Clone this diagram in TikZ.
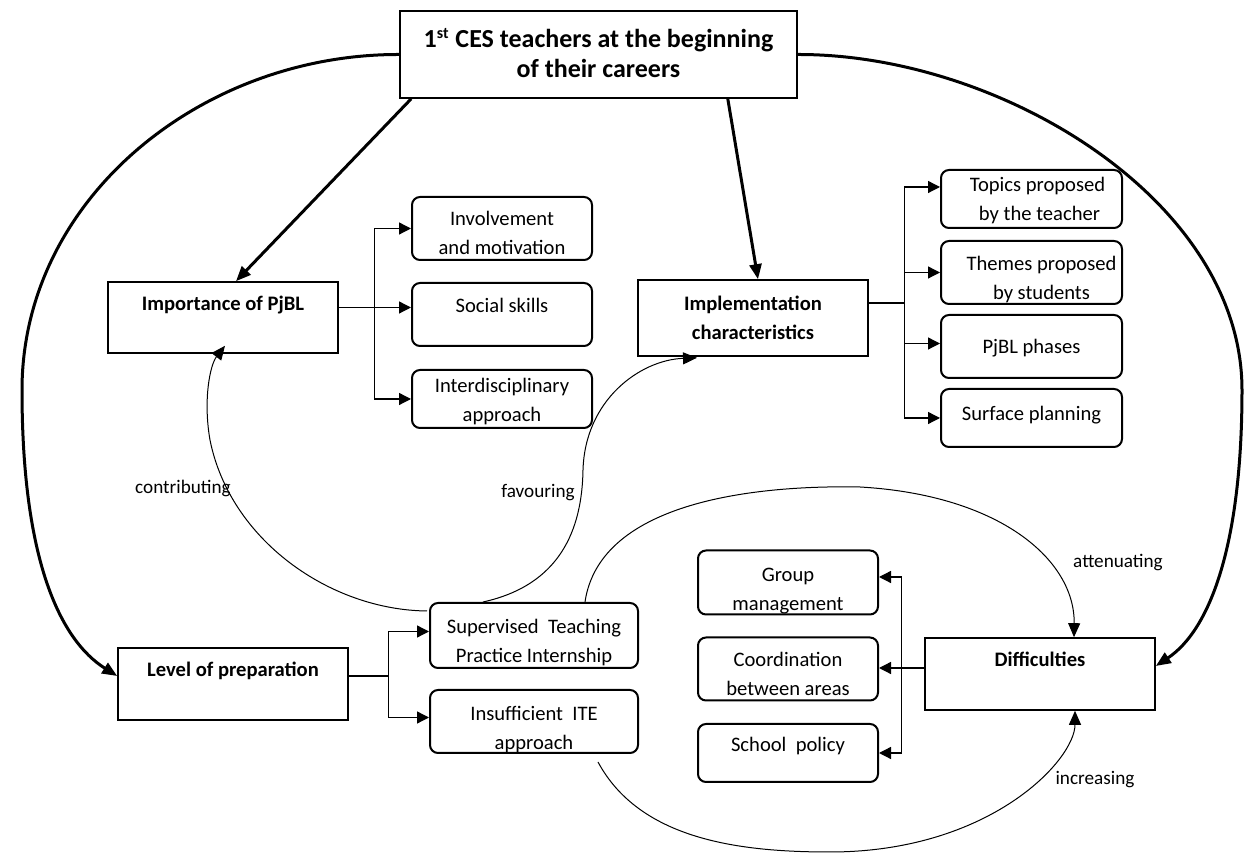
\documentclass[tikz,border=0pt]{standalone}
\usepackage{fontspec}
\setmainfont{Carlito}
\usetikzlibrary{arrows.meta,calc}
\newcommand{\subtext}[2]{\raisebox{-#1}[\height][\depth]{\begin{tabular}{@{}c@{}}#2\end{tabular}}}
\begin{document}
\begin{tikzpicture}[x=0.5pt,y=-0.5pt,
	box/.style={draw,line width=0.8pt,align=center,inner sep=0pt,minimum width=115pt,font=\fontsize{10.3}{14.5}\selectfont\bfseries},
	sub/.style={draw,line width=1pt,rounded corners=4pt,inner sep=0pt,font=\fontsize{10.3}{14.5}\selectfont},
	lbl/.style={inner sep=0pt,font=\fontsize{9.6}{11}\selectfont},
	link/.style={line width=0.65pt},
	tip/.style={line width=0.65pt,-{Triangle[length=6pt,width=6pt]}},
	curvearrow/.style={line width=0.5pt,-{Triangle[length=7pt,width=6pt]}},
	mainarrow/.style={line width=1.5pt,-{Triangle[length=7.5pt,width=6pt]}}]
	\useasboundingbox (0,0) rectangle (1249,854);
	
	\node[draw,line width=0.8pt,inner sep=0pt,minimum width=198.5pt,minimum height=43.5pt,font=\fontsize{13}{15}\selectfont\bfseries] (top) at (598.5,54.5) {\subtext{0.9pt}{1\textsuperscript{\footnotesize st} CES teachers at the beginning\\of their careers}};
	
	\node[box,minimum height=35.5pt] (imp) at (223,317.5) {Importance of PjBL\\\mbox{}};
	\node[box,minimum height=38pt] (impl) at (753,318) {Implementation\\characteristics};
	\node[box,minimum height=36pt] (lev) at (233,684) {Level of preparation\\\mbox{}};
	\node[box,minimum height=36pt] (dif) at (1040,674) {Difficulties\\\mbox{}};
	
	\node[sub,minimum width=90pt,minimum height=31.5pt] (inv) at (502,228.5) {\subtext{3pt}{Involvement\\and motivation}};
	\node[sub,minimum width=90pt,minimum height=31.5pt] (soc) at (502,314.5) {\subtext{3.5pt}{Social skills\\\mbox{}}};
	\node[sub,minimum width=90pt,minimum height=29pt] (int) at (502,399) {\subtext{1pt}{Interdisciplinary\\approach}};
	
	\node[sub,minimum width=90.5pt,minimum height=29pt] (tpc) at (1031.5,199) {\subtext{0.5pt}{\hspace{6pt}Topics proposed\\\hspace{8pt}by the teacher}};
	\node[sub,minimum width=90.5pt,minimum height=31.5pt] (thm) at (1031.5,272.5) {\subtext{3.5pt}{\hspace{10pt}Themes proposed\\\hspace{10pt}by students}};
	\node[sub,minimum width=90.5pt,minimum height=31.5pt] (pha) at (1031.5,346.5) {\subtext{0.5pt}{PjBL phases}};
	\node[sub,minimum width=90.5pt,minimum height=29pt] (sur) at (1031.5,418) {\subtext{-1.5pt}{Surface planning}};
	
	\node[sub,minimum width=104pt,minimum height=32.5pt] (sup) at (534,635.5) {\subtext{3.5pt}{Supervised\ \ Teaching\\Practice Internship}};
	\node[sub,minimum width=104pt,minimum height=31.5pt] (ins) at (534,721.5) {\subtext{4pt}{Insufficient\ \ ITE\\approach}};
	
	\node[sub,minimum width=90pt,minimum height=32pt] (grp) at (788,582.5) {\subtext{4pt}{Group\\management}};
	\node[sub,minimum width=90pt,minimum height=31.5pt] (crd) at (788,669) {\subtext{3pt}{Coordination\\between areas}};
	\node[sub,minimum width=90pt,minimum height=29pt] (sch) at (788,753) {\subtext{3.5pt}{School\ \ policy\\\mbox{}}};
	
	\node[lbl] (lcon) at (183,488) {contributing};
	\node[lbl] (lfav) at (538,493) {favouring};
	\node[lbl] (latt) at (1118,563) {attenuating};
	\node[lbl] (linc) at (1095,780) {increasing};
	
	\draw[mainarrow] ([xshift=6pt]top.south west) -- ([xshift=6.5pt]imp.north);
	\draw[mainarrow] ([xshift=-35pt]top.south east) -- ([xshift=2.5pt]impl.north);
	\draw[mainarrow] (top.west) .. controls (200,54) and (22,200) .. (22,390) .. controls (22,560) and (60,640) .. ([yshift=4pt]lev.west);
	\draw[mainarrow] (top.east) .. controls (1000,54) and (1242,200) .. (1242,390) .. controls (1242,545) and (1210,630) .. ([yshift=4pt]dif.east);
	
	\draw[link] ([yshift=5pt]imp.east) -- ++(36,0) coordinate (impbus);
	\draw[tip] (impbus) |- (inv.west);
	\draw[tip] (impbus) -- (impbus -| soc.west);
	\draw[tip] (impbus) |- (int.west);
	
	\draw[link] ([yshift=7.5pt]impl.east) -- ++(36,0) coordinate (implbus);
	\draw[tip] (implbus) |- ([yshift=6pt]tpc.west);
	\draw[tip] (implbus) |- (thm.west);
	\draw[tip] (implbus) |- ([yshift=1.5pt]pha.west);
	\draw[tip] (implbus) |- (sur.west);
	
	\draw[link] ([yshift=4pt]lev.east) -- ++(40,0) coordinate (levbus);
	\draw[tip] (levbus) |- ([yshift=2pt]sup.west);
	\draw[tip] (levbus) |- ([yshift=2pt]ins.west);
	
	\draw[link] ([yshift=3pt]dif.west) -- ++(-23,0) coordinate (difbus);
	\draw[tip] (difbus) -- (difbus -| crd.east);
	\draw[tip] (difbus) |- ([yshift=2.75pt]grp.east);
	\draw[tip] (difbus) |- (sch.east);
	
	\draw[curvearrow] ($(sup.north west)+(-2,9)$) .. controls (330,610) and (230,540) .. (210,440) .. controls (203,400) and (210,365) .. ($(imp.south)+(2,-8)$);
	\draw[curvearrow] ($(sup.north)+(-51,0)$) .. controls (560,585) and (582,530) .. (583,470) .. controls (585,400) and (640,360) .. ($(impl.south)+(-56,1)$);
	\draw[curvearrow] ($(sup.north)+(51,0)$) .. controls (600,500) and (760,485) .. (860,487) .. controls (1000,495) and (1075,560) .. ($(dif.north)+(34,0)$);
	\draw[curvearrow] ($(ins.south)+(64,8)$) .. controls (640,840) and (740,852) .. (830,852) .. controls (990,852) and (1075,760) .. ($(dif.south)+(35,0)$);
\end{tikzpicture}
\end{document}
